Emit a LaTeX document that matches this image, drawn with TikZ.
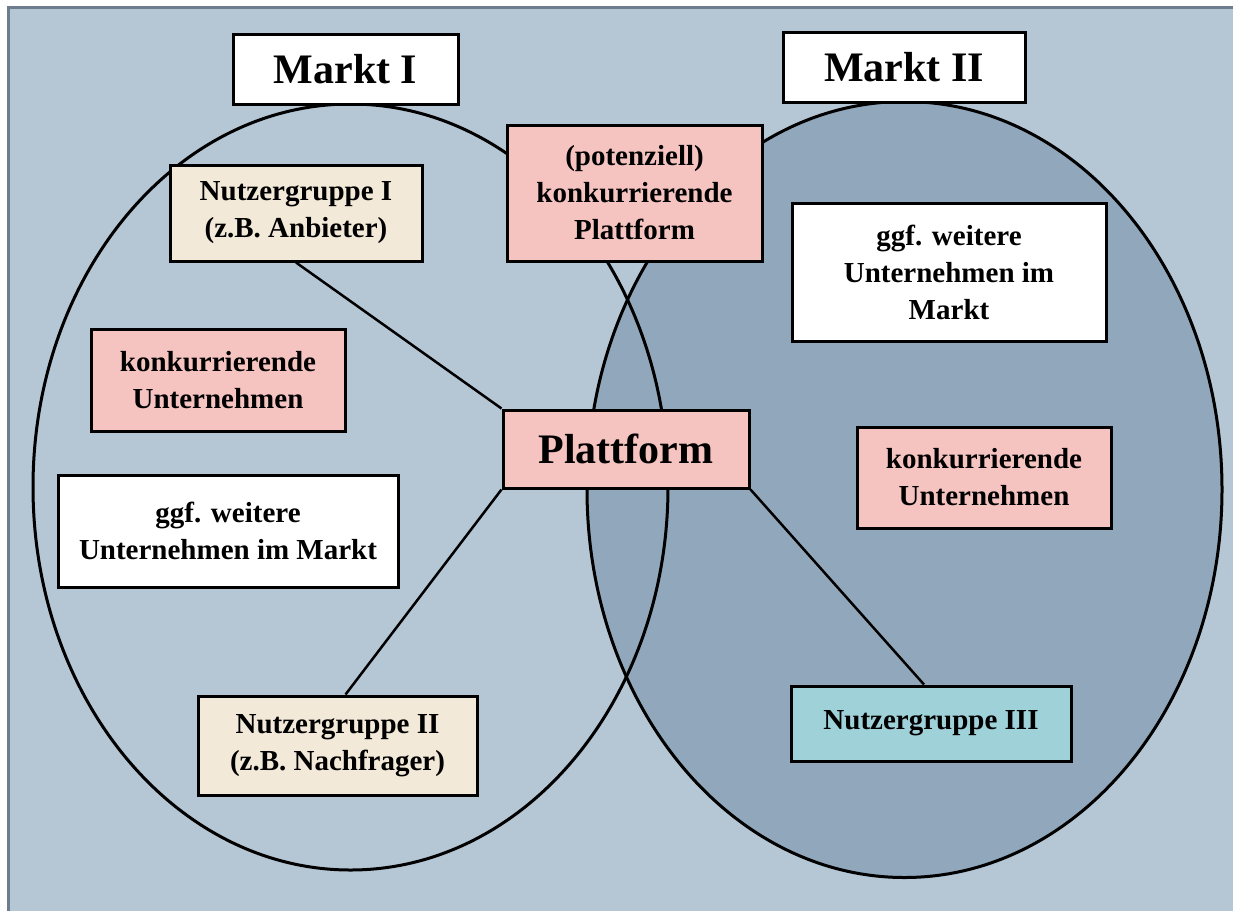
\documentclass[tikz,border=0pt]{standalone}
\usepackage{fontspec}
\setmainfont{Liberation Serif}
\usetikzlibrary{positioning}

\definecolor{hintergrund}{HTML}{B5C6D5}
\definecolor{rahmen}{HTML}{6E7D8D}
\definecolor{marktzwei}{HTML}{91A7BB}
\definecolor{rosa}{HTML}{F5C3C0}
\definecolor{beige}{HTML}{F3E9D9}
\definecolor{tuerkis}{HTML}{9FD1D9}

\tikzset{
  feld/.style={draw, line width=3pt, align=center, inner sep=0pt,
    font=\fontsize{29}{37}\selectfont\bfseries},
  titel/.style={feld, fill=white, font=\fontsize{42}{48}\selectfont\bfseries},
  linie/.style={line width=2.5pt}
}

\begin{document}
\begin{tikzpicture}[x=1pt, y=-1pt]
    \useasboundingbox (0,0) rectangle (1233,911);
    \fill[hintergrund] (7,6) rectangle (1233,911);
    \draw[rahmen, line width=3pt] (8.5,911) -- (8.5,7.5) -- (1233,7.5);

    \draw[line width=3pt, fill=marktzwei] (904.5,489.5) ellipse [x radius=317.5, y radius=388];
    \draw[line width=3pt] (350.5,487) ellipse [x radius=317.5, y radius=383];

    \node[titel, minimum width=225, minimum height=70] (markt1) at (345.5,69) {Markt I};
    \node[titel, minimum width=242, minimum height=70] (markt2) at (904,67) {Markt II};

    \node[feld, fill=beige, minimum width=252, minimum height=96] (nutzer1) at (296,213)
        {Nutzergruppe I\\(z.B. Anbieter)};
    \node[feld, fill=rosa, minimum width=255, minimum height=136] (konkplatt) at (634.5,193)
        {(potenziell)\\konkurrierende\\Plattform};
    \node[feld, fill=white, minimum width=314, minimum height=138] (weitere2) at (949,272)
        {ggf. weitere\\Unternehmen im\\Markt};
    \node[feld, fill=rosa, minimum width=254, minimum height=102] (konk1) at (218,380)
        {konkurrierende\\Unternehmen};
    \node[feld, fill=rosa, minimum width=246, minimum height=78,
          font=\fontsize{42}{48}\selectfont\bfseries] (plattform) at (626,449) {Plattform};
    \node[feld, fill=rosa, minimum width=254, minimum height=101] (konk2) at (984,477.5)
        {konkurrierende\\Unternehmen};
    \node[feld, fill=white, minimum width=340, minimum height=112] (weitere1) at (228,531)
        {ggf. weitere\\Unternehmen im Markt};
    \node[feld, fill=beige, minimum width=279, minimum height=99] (nutzer2) at (337.5,745.5)
        {Nutzergruppe II\\(z.B. Nachfrager)};
    \node[feld, fill=tuerkis, minimum width=280, minimum height=75] (nutzer3) at (931,723.5)
        {\raisebox{7pt}{Nutzergruppe III}};

    \draw[linie] (nutzer1.south) -- (plattform.north west);
    \draw[linie] (plattform.south west) -- ([xshift=8]nutzer2.north);
    \draw[linie] (plattform.south east) -- ([xshift=-7]nutzer3.north);
\end{tikzpicture}
\end{document}
